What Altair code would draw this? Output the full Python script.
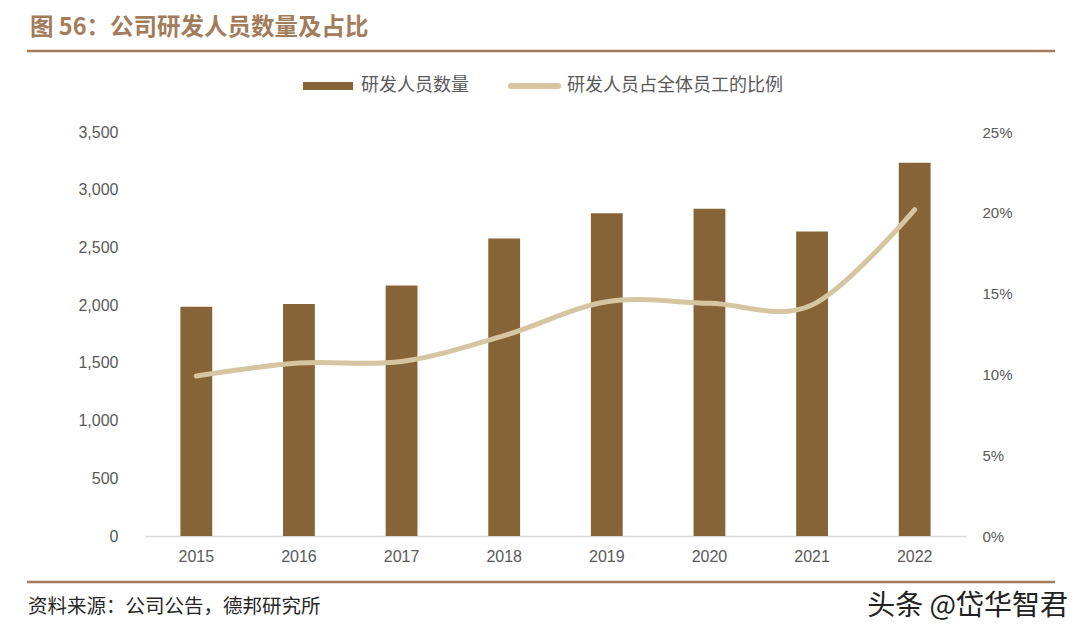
import altair as alt
import pandas as pd

years = ["2015", "2016", "2017", "2018", "2019", "2020", "2021", "2022"]
staff = [1985, 2010, 2170, 2578, 2797, 2835, 2638, 3233]
ratio = [0.099, 0.107, 0.108, 0.124, 0.145, 0.144, 0.143, 0.202]

left_ticks = [0, 500, 1000, 1500, 2000, 2500, 3000, 3500]
right_ticks = [0, 0.05, 0.10, 0.15, 0.20, 0.25]

title_text = "图 56：公司研发人员数量及占比"
legend_bar = "研发人员数量"
legend_line = "研发人员占全体员工的比例"
source_text = "资料来源：公司公告，德邦研究所"
watermark = "头条 @岱华智君"

BAR = "#876437"
LINE = "#D5C5A1"
ACCENT = "#A27C5B"
LABEL = "#595959"
LATIN = "Liberation Sans"
CJK = "Noto Sans CJK SC"

W, H = 821, 404
OX, OY = 145, 132  # page position of plot origin
PAD_L, PAD_T = OX - 8, OY - 8
TOTAL_W, TOTAL_H = 1070, 620


def px(x):
    return x - OX


def py(y):
    return y - OY


df = pd.DataFrame({"year": years, "staff": staff, "ratio": ratio})

x_enc = alt.X(
    "year:N",
    sort=years,
    scale=alt.Scale(paddingInner=0.69, paddingOuter=0.345),
    axis=alt.Axis(
        title=None, labelAngle=0, ticks=False, domainColor="#D9D9D9",
        domainWidth=1.5, labelPadding=12, labelFontSize=16,
        labelColor=LABEL, labelFont=LATIN,
    ),
)

bars = alt.Chart(df).mark_bar(color=BAR).encode(
    x=x_enc,
    y=alt.Y(
        "staff:Q",
        scale=alt.Scale(domain=[0, 3500]),
        axis=alt.Axis(
            title=None, values=left_ticks, labelExpr="format(datum.value, ',.0f')",
            grid=False, domain=False, ticks=False, labelPadding=27,
            labelFontSize=16, labelColor=LABEL, labelFont=LATIN,
        ),
    ),
)

line = alt.Chart(df).mark_line(
    color=LINE, strokeWidth=5, strokeCap="round", interpolate="cardinal", tension=0
).encode(
    x=x_enc,
    y=alt.Y(
        "ratio:Q",
        scale=alt.Scale(domain=[0, 0.25]),
        axis=alt.Axis(
            title=None, orient="right", values=right_ticks,
            labelExpr="format(datum.value, '.0%')",
            grid=False, domain=False, ticks=False, labelPadding=16,
            labelFontSize=15, labelColor=LABEL, labelFont=LATIN,
        ),
    ),
)


def txt(text, x, y, size, color, font, weight="normal", align="left"):
    return alt.Chart(pd.DataFrame({"t": [text]})).mark_text(
        align=align, baseline="middle", fontSize=size, color=color,
        font=font, fontWeight=weight,
    ).encode(x=alt.value(px(x)), y=alt.value(py(y)), text="t:N")


def hrule(x1, x2, y, color, width, cap="butt"):
    return alt.Chart(pd.DataFrame({"a": [0]})).mark_rule(
        color=color, strokeWidth=width, strokeCap=cap
    ).encode(x=alt.value(px(x1)), x2=alt.value(px(x2)), y=alt.value(py(y)))


decor = [
    txt(title_text, 30, 28, 23.5, ACCENT, CJK, weight="bold"),
    hrule(27, 1055, 51, ACCENT, 2.5),
    hrule(303, 353, 86, BAR, 8),
    txt(legend_bar, 361, 86, 18, LABEL, CJK),
    hrule(511, 558, 86, LINE, 6, cap="round"),
    txt(legend_line, 567, 86, 18, LABEL, CJK),
    hrule(27, 1055, 582, ACCENT, 2.5),
    txt(source_text, 28, 607, 19.5, "#262626", CJK),
    txt(watermark, 1068, 607, 28, "#222222", CJK, align="right"),
]

chart = alt.layer(bars, line, *decor).resolve_scale(y="independent").properties(
    width=W,
    height=H,
    padding={"left": PAD_L, "top": PAD_T, "right": TOTAL_W - PAD_L - W, "bottom": TOTAL_H - PAD_T - H},
    autosize=alt.AutoSizeParams(type="none"),
).configure_view(stroke=None)

chart.save("out.html", embed_options={"renderer": "svg", "actions": False})
